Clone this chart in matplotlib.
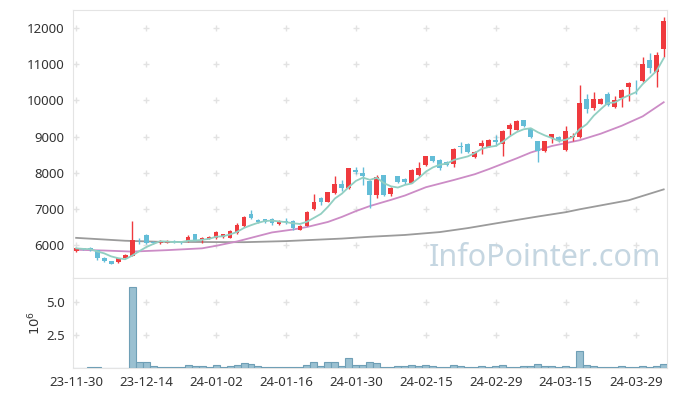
import numpy as np
import pandas as pd
import matplotlib.pyplot as plt

# OHLC values (one candle per trading day)
opens = [5830, 5910, 5920, 5860, 5650, 5560, 5520, 5640, 5700, 6180,
         6280, 6090, 6060, 6070, 6100, 6100, 6100, 6300, 6130, 6170,
         6200, 6230, 6200, 6340, 6530, 6850, 6690, 6710, 6710, 6580,
         6670, 6660, 6430, 6540, 6985, 7310, 7195, 7440, 7690, 7580,
         8080, 7990, 7775, 7380, 7930, 7400, 7900, 7840, 7730, 7930,
         8210, 8450, 8350, 8300, 8255, 8740, 8790, 8430, 8740, 8715,
         8900, 8800, 9200, 9190, 9450, 9220, 8870, 8600, 8960, 8990,
         8620, 8980, 8990, 10050, 9790, 9910, 10190, 9820, 10060, 10375,
         10490, 10535, 11110, 10785, 11410]
highs = [5930, 5920, 5940, 5870, 5660, 5570, 5640, 5750, 6660, 6200,
         6300, 6110, 6150, 6130, 6130, 6120, 6290, 6310, 6230, 6240,
         6380, 6320, 6420, 6600, 6800, 6960, 6720, 6730, 6740, 6680,
         6760, 6680, 6560, 6930, 7415, 7330, 7480, 7900, 7800, 8140,
         8160, 8160, 7800, 7930, 7950, 7600, 7920, 7860, 8100, 8300,
         8470, 8470, 8370, 8320, 8680, 8860, 8810, 8600, 8900, 8920,
         9050, 9170, 9380, 9450, 9470, 9240, 8890, 8890, 9080, 9020,
         9300, 9100, 10420, 10190, 10220, 10070, 10220, 10110, 10320, 10510,
         10560, 11200, 11300, 11335, 12320]
lows = [5810, 5870, 5830, 5600, 5540, 5470, 5510, 5630, 5690, 6030,
        6040, 6040, 6040, 6050, 6060, 6030, 6090, 6120, 6060, 6160,
        6180, 6200, 6190, 6320, 6500, 6720, 6600, 6610, 6560, 6560,
        6580, 6420, 6410, 6530, 6970, 7120, 7180, 7420, 7500, 7560,
        7960, 7650, 7020, 7300, 7360, 7350, 7720, 7700, 7710, 7900,
        8190, 8310, 8090, 8200, 8150, 8540, 8560, 8410, 8520, 8700,
        8740, 8450, 9050, 9170, 9260, 8960, 8290, 8580, 8830, 8860,
        8600, 8880, 8950, 9660, 9730, 9890, 9840, 9800, 9820, 9980,
        10190, 10520, 10750, 10360, 11200]
closes = [5910, 5880, 5870, 5640, 5560, 5490, 5630, 5720, 6140, 6160,
          6060, 6060, 6100, 6100, 6090, 6070, 6230, 6140, 6200, 6220,
          6360, 6300, 6390, 6550, 6770, 6740, 6630, 6640, 6600, 6660,
          6640, 6480, 6540, 6910, 7195, 7190, 7460, 7690, 7580, 8125,
          8020, 7915, 7380, 7870, 7380, 7580, 7745, 7745, 8070, 8145,
          8450, 8330, 8120, 8220, 8650, 8700, 8575, 8575, 8815, 8900,
          8850, 9150, 9310, 9420, 9285, 8990, 8600, 8870, 9060, 8880,
          9150, 9010, 9930, 9750, 10050, 10050, 9865, 10000, 10300, 10490,
          10470, 11000, 10905, 11245, 12210]
volumes = [20000, 20000, 100000, 100000, 20000, 20000, 20000, 20000, 6190000, 430000,
           430000, 180000, 100000, 100000, 100000, 100000, 250000, 180000, 180000, 100000,
           250000, 100000, 180000, 250000, 400000, 330000, 180000, 100000, 100000, 100000,
           100000, 100000, 100000, 250000, 480000, 180000, 480000, 480000, 180000, 780000,
           250000, 250000, 480000, 400000, 100000, 100000, 180000, 180000, 250000, 180000,
           250000, 180000, 50000, 100000, 250000, 180000, 100000, 100000, 180000, 100000,
           180000, 250000, 100000, 100000, 180000, 180000, 330000, 180000, 180000, 100000,
           180000, 100000, 1310000, 250000, 180000, 100000, 100000, 100000, 180000, 100000,
           100000, 180000, 100000, 180000, 330000]

# longer moving averages need history before the window, so read them off the chart
ma20_idx = [0, 4, 8, 13, 18, 20, 23, 26, 28, 31, 33, 36, 38, 40, 42, 45, 47, 50,
            54, 57, 59, 61, 63, 65, 68, 72, 75, 78, 81, 84]
ma20 = [5870, 5850, 5820, 5860, 5910, 5980, 6100, 6250, 6350, 6430, 6500, 6640,
        6780, 6940, 7080, 7250, 7370, 7600, 7800, 7960, 8100, 8250, 8400, 8560,
        8740, 8900, 9080, 9300, 9560, 9950]
ma60_idx = [0, 7, 12, 18, 24, 30, 38, 42, 47, 52, 56, 60, 66, 70, 72, 79, 84]
ma60 = [6200, 6120, 6090, 6085, 6080, 6110, 6180, 6230, 6280, 6360, 6470, 6600,
        6790, 6910, 6990, 7240, 7540]

tick_pos = [0, 10, 20, 30, 40, 50, 60, 70, 80]
tick_labels = ['23-11-30', '23-12-14', '24-01-02', '24-01-16', '24-01-30',
               '24-02-15', '24-02-29', '24-03-15', '24-03-29']
price_ticks = [6000, 7000, 8000, 9000, 10000, 11000, 12000]
vol_ticks = [2.5, 5.0]

RED = '#ef3a3e'
BLUE = '#63bdd7'
GRID = '#e2e2e2'
SPINE = '#e4e4e4'

o = np.array(opens)
c = np.array(closes)
x = np.arange(len(o))
colors = [RED if cc >= oo else BLUE for oo, cc in zip(o, c)]
ma5 = pd.Series(closes).rolling(5, min_periods=1).mean()

plt.rcParams['font.family'] = ['Noto Sans', 'DejaVu Sans']
fig = plt.figure(figsize=(6.77, 3.96), dpi=100)
ax = fig.add_axes([0.1078, 0.298, 0.8772, 0.6767])
ax2 = fig.add_axes([0.1078, 0.0707, 0.8772, 0.2273], sharex=ax)

# candles
ax.vlines(x, lows, highs, color=colors, linewidth=1, zorder=3)
body = np.maximum(np.abs(c - o), 15)
ax.bar(x, body, bottom=np.minimum(o, c), width=0.7, color=colors, zorder=4)

# moving averages
ax.plot(ma60_idx, ma60, color='#9b9b9b', linewidth=1.3, zorder=2)
ax.plot(ma20_idx, ma20, color='#cc8cc6', linewidth=1.3, zorder=2)
ax.plot(x, ma5, color='#92cfc2', linewidth=1.3, zorder=5)

ax.set_xlim(-0.45, 84.45)
ax.set_ylim(5090, 12500)
ax.set_yticks(price_ticks)
ax.set_xticks(tick_pos)
ax.tick_params(labelbottom=False, length=0, labelsize=9.5, colors='#333333', pad=6)

gx, gy = np.meshgrid(tick_pos, price_ticks)
ax.plot(gx.ravel(), gy.ravel(), '+', color=GRID, markersize=4, zorder=0)

ax.text(0.99, 0.02, 'InfoPointer.com', transform=ax.transAxes, ha='right', va='bottom',
        fontsize=22, color='#c5d6e1', zorder=1)

# volume
vol = np.array(volumes) / 1e6
ax2.bar(x, vol, width=1.0, color='#9ac0d1', edgecolor='#6f9fb6', linewidth=0.8, zorder=3)
ax2.set_ylim(0, 6.86)
ax2.set_yticks(vol_ticks)
ax2.set_yticklabels(['2.5', '5.0'])
ax2.set_xticks(tick_pos)
ax2.set_xticklabels(tick_labels)
ax2.tick_params(length=0, labelsize=9.5, colors='#333333', pad=6)
ax2.set_ylabel('$10^6$', fontsize=9.5, color='#333333', labelpad=2)
gx, gy = np.meshgrid(tick_pos, vol_ticks)
ax2.plot(gx.ravel(), gy.ravel(), '+', color=GRID, markersize=4, zorder=0)

for a in (ax, ax2):
    for s in a.spines.values():
        s.set_color(SPINE)

fig.savefig('out.png', dpi=100)
